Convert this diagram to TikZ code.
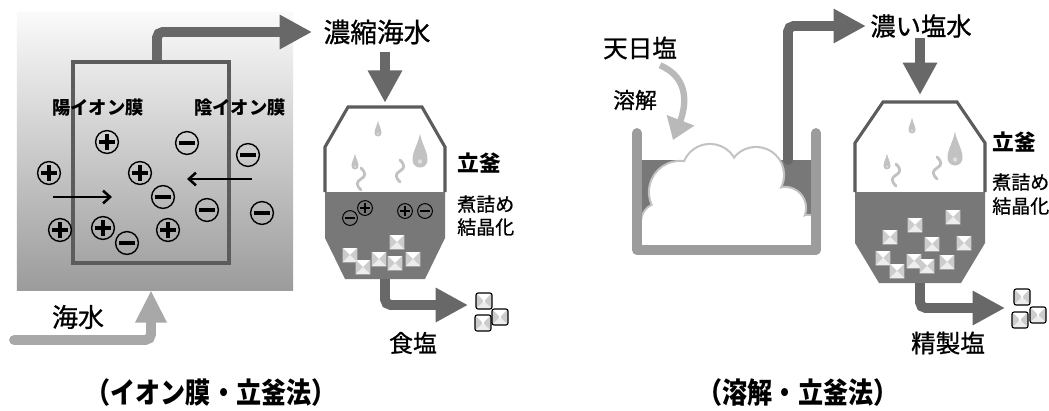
\documentclass[tikz,border=0pt]{standalone}
\usepackage{fontspec}
\newfontfamily\jp{Noto Sans CJK JP}
\newfontfamily\jpm{Noto Sans CJK JP}[FakeBold=0.8]
\usetikzlibrary{arrows.meta,calc}

\begin{document}
\begin{tikzpicture}[x=0.025cm,y=-0.025cm,
  lbl/.style={font=\jpm\fontsize{#1}{#1}\selectfont,inner sep=0},
  blbl/.style={font=\jp\bfseries\fontsize{#1}{#1}\selectfont,inner sep=0},
  pipe/.style={draw=pipegray,line width=7pt,rounded corners=4pt,-{Triangle[width=23pt,length=23pt]}},
  seapipe/.style={draw=seagray,line width=7pt,line cap=round,rounded corners=4pt,-{Triangle[width=21pt,length=23pt]}},
  pmove/.style={line width=1.8pt,-{Straight Barb[length=5pt,width=9pt]}},
  ion/.style={circle,draw,inner sep=0,minimum size=#1},
  bigion/.style={ion=0.57cm,line width=1pt,ionsign/.style={line width=2.4pt}},
  smallion/.style={ion=0.37cm,line width=0.7pt,ionsign/.style={line width=1.4pt}},
  plus/.style={path picture={\draw[ionsign]
      ($(path picture bounding box.center)!.68!(path picture bounding box.west)$) --
      ($(path picture bounding box.center)!.68!(path picture bounding box.east)$)
      ($(path picture bounding box.center)!.68!(path picture bounding box.north)$) --
      ($(path picture bounding box.center)!.68!(path picture bounding box.south)$);}},
  minus/.style={path picture={\draw[ionsign]
      ($(path picture bounding box.center)!.7!(path picture bounding box.west)$) --
      ($(path picture bounding box.center)!.7!(path picture bounding box.east)$);}},
  crystal/.style={minimum size=#1,inner sep=0,fill=white,path picture={
      \fill[gray!40] (path picture bounding box.north west) -- (path picture bounding box.center)
        -- (path picture bounding box.south west) -- cycle
        (path picture bounding box.north east) -- (path picture bounding box.center)
        -- (path picture bounding box.south east) -- cycle;
      \fill[gray!14] (path picture bounding box.south west) -- (path picture bounding box.center)
        -- (path picture bounding box.south east) -- cycle;}},
  outcrystal/.style={crystal=0.4cm,draw,line width=0.8pt,rounded corners=1.5pt},
  curvy/.style={draw=gray!55,line width=4.5pt,-{Triangle[width=20pt,length=15pt]}},
  caption/.style={blbl=20.5pt,xscale=0.87,transform shape},
  pics/drop/.style={code={
      \fill[vapour] (0,-3.5*#1) .. controls (0.3*#1,-2*#1) and (#1,-1.2*#1) .. (#1,0)
        .. controls (#1,0.55*#1) and (0.55*#1,#1) .. (0,#1)
        .. controls (-0.55*#1,#1) and (-#1,0.55*#1) .. (-#1,0)
        .. controls (-#1,-1.2*#1) and (-0.3*#1,-2*#1) .. cycle;
      \fill[gray!25] (0,0.2*#1) circle (0.3*#1);}},
  pics/steam/.style={code={
      \draw[vapour,line width=2pt,line cap=round] (0,0) .. controls (5,5) and (5,8) .. (0,11)
        .. controls (-5,14) and (-5,17) .. (0,22);}}]
\definecolor{pipegray}{HTML}{686868}
\definecolor{seagray}{HTML}{A8A8A8}
\definecolor{brine}{HTML}{787878}
\definecolor{potedge}{HTML}{5C5C5C}
\definecolor{wallgray}{HTML}{9C9C9C}
\definecolor{cloudedge}{HTML}{C2C2C2}
\definecolor{vapour}{HTML}{C2C2C2}
\path[use as bounding box,fill=white] (0,0) rectangle (1049,410);

% ion exchange membrane cell
\node[top color=gray!4,bottom color=gray!78,minimum width=6.9cm,minimum height=6.925cm,inner sep=0] (bg) at (155,151.5) {};
\node[draw=potedge,line width=2.2pt,minimum width=3.9cm,minimum height=5.025cm,inner sep=0] (cell) at (151,162.5) {};
\node[blbl=13pt] (cationM) at (98,108) {陽イオン膜};
\node[blbl=13pt] (anionM) at (240,108) {陰イオン膜};
\foreach \x/\y [count=\i] in {107/142,49/173,140/173,60/230,103/228,168/230}
  {\node[bigion,plus] (cat\i) at (\x,\y) {};}
\foreach \x/\y [count=\i] in {187/143,248/155,163/197,207/210,262/213,127/243}
  {\node[bigion,minus] (an\i) at (\x,\y) {};}
\coordinate (catFrom) at (53,197);
\coordinate (catTo) at (112,197);
\coordinate (anFrom) at (252,179);
\coordinate (anTo) at (187,179);
\draw[pmove] (catFrom) -- (catTo);
\draw[pmove] (anFrom) -- (anTo);
\node[lbl=18.5pt] (sea) at (78,317) {海水};
\coordinate (seaIn) at (14,340);
\draw[seapipe] (seaIn) -| (bg.south -| cell.north);
\node[lbl=19pt] (conc) at (377,32) {濃縮海水};
\draw[pipe,shorten >=8pt] ([xshift=0.15cm]cell.north) |- (conc.west);

% the two boiling pots
\foreach \cx/\ty/\sy/\ky/\by/\tw/\mw/\bw/\nm in {385/107/147/238/279/37/60/40/L,920/102/143/243/283/37/65/41/R}
{
  \fill[brine] (\cx-\mw,192) -- (\cx-\mw,\ky) -- (\cx-\bw,\by) -- (\cx+\bw,\by) -- (\cx+\mw,\ky) -- (\cx+\mw,192) -- cycle;
  \draw[potedge,line width=2.2pt] (\cx-\mw,192) -- (\cx-\mw,\sy) -- (\cx-\tw,\ty) -- (\cx+\tw,\ty) -- (\cx+\mw,\sy) -- (\cx+\mw,192);
  \coordinate (pot\nm top) at (\cx,\ty);
  \coordinate (pot\nm bot) at (\cx,\by);
}
\pic at (378,133) {drop=3.5};
\pic at (420,160) {drop=7.5};
\pic at (355,166) {drop=3.5};
\pic at (361,168) {steam};
\pic at (400,160) {steam};
\pic at (912,130) {drop=3.5};
\pic at (955,158) {drop=7.5};
\pic at (887,166) {drop=3.5};
\pic at (896,164) {steam};
\pic at (937,157) {steam};

\foreach \x/\y/\s [count=\i] in {350/218/minus,365/208/plus,405/211/plus,425/211/minus}
  {\node[smallion,\s] (potion\i) at (\x,\y) {};}
\foreach \x/\y [count=\i] in {397/242,350/255,363/267,379/259,395/263,413/259}
  {\node[crystal=0.37cm] (cL\i) at (\x,\y) {};}
\foreach \x/\y [count=\i] in {953/217,915/225,890/237,932/244,964/243,883/258,897/271,914/261,927/266,947/262}
  {\node[crystal=0.37cm] (cR\i) at (\x,\y) {};}

\draw[pipe,shorten <=5pt,shorten >=3pt] (conc.south -| potLtop) -- (potLtop);
\coordinate (outL) at (468,305);
\draw[pipe] (potLbot) |- (outL);
\foreach \x/\y [count=\i] in {484/301,483/323,500/317}
  {\node[outcrystal] (saltL\i) at (\x,\y) {};}
\node[lbl=17pt] (shokuen) at (413,343) {食塩};
\node[blbl=15.5pt,anchor=west] (tateL) at (457,163) {立釜};
\node[lbl=13.5pt,anchor=west] (nitsumeL) at (457,204) {煮詰め};
\node[lbl=13.5pt,anchor=west] (kesshoL) at (457,227) {結晶化};

% dissolving tank
\fill[brine] (637,160) rectangle (816,250);
\begin{scope}
  \clip (642,135) rectangle (811,247);
  \foreach \x/\y/\r in {680/192/30,660/222/18,710/172/27,756/175/27,785/208/20,808/230/14}
    {\draw[cloudedge,line width=3pt] (\x,\y) circle (\r);}
  \foreach \x/\y/\r in {680/192/30,660/222/18,710/172/27,756/175/27,785/208/20,808/230/14}
    {\fill[white] (\x,\y) circle (\r);}
  \fill[white] (642,222) -- (660,222) -- (680,192) -- (710,172) -- (756,175) -- (785,208) -- (808,230) -- (811,230) -- (811,247) -- (642,247) -- cycle;
\end{scope}
\draw[wallgray,line width=7pt,line cap=round,line join=round] (637,133) -- (637,250) -- (816,250) -- (816,133);
\node[lbl=17.5pt] (tenpi) at (640,48) {天日塩};
\node[lbl=15.5pt] (yokai) at (635,100) {溶解};
\coordinate (drop) at (673,140);
\draw[curvy] ([xshift=0.5cm,yshift=-4pt]tenpi.south) .. controls (690,78) and (686,106) .. (drop);
\node[lbl=18pt] (koi) at (921,26) {濃い塩水};
\coordinate (tankOut) at (788,160);
\draw[pipe,line cap=round,shorten >=3pt] (tankOut) |- (koi.west);
\draw[pipe,shorten >=5pt] (koi.south -| potRtop) -- (potRtop);
\coordinate (outR) at (1005,308);
\draw[pipe] (potRbot) |- (outR);
\foreach \x/\y [count=\i] in {1022/297,1020/320,1038/315}
  {\node[outcrystal] (saltR\i) at (\x,\y) {};}
\node[lbl=17.5pt] (seisei) at (948,343) {精製塩};
\node[blbl=15.5pt,anchor=west] (tateR) at (992,142) {立釜};
\node[lbl=13.5pt,anchor=west] (nitsumeR) at (992,182) {煮詰め};
\node[lbl=13.5pt,anchor=west] (kesshoR) at (992,206) {結晶化};

\node[caption] (capL) at (211,393) {（イオン膜・立釜法）};
\node[caption] (capR) at (798,393) {（溶解・立釜法）};
\end{tikzpicture}
\end{document}
